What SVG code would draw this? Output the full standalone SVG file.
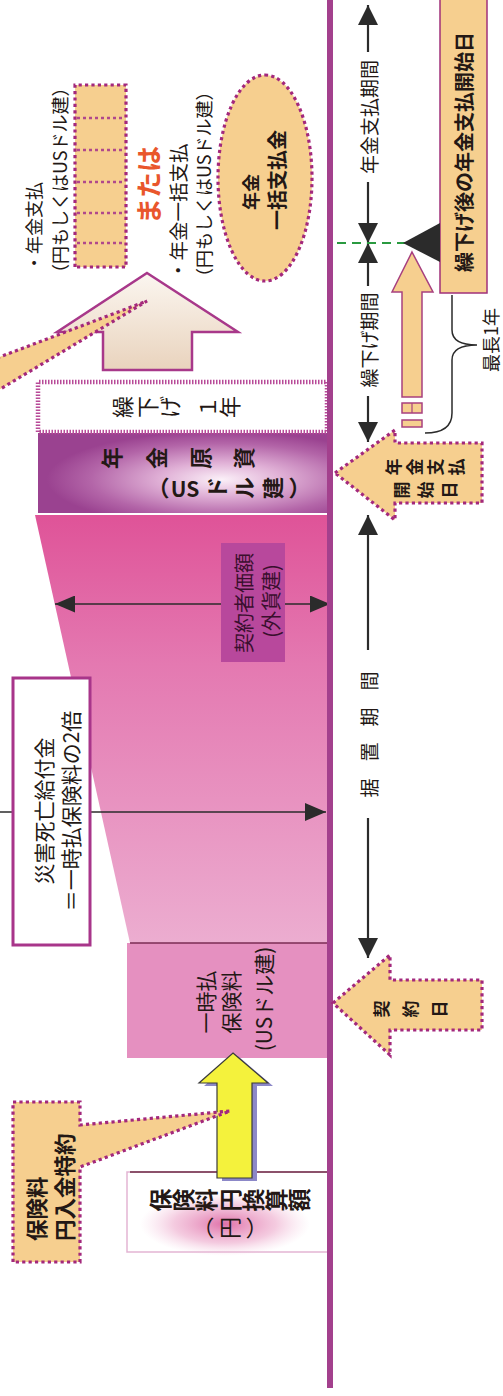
<svg xmlns="http://www.w3.org/2000/svg" width="503" height="1396" viewBox="0 0 503 1396">
<style>
.t{font-family:"Noto Sans CJK JP","Noto Sans CJK SC",sans-serif;fill:#231815;dominant-baseline:central}
.m{text-anchor:middle}
.b{font-weight:700}
.dot{fill:#f6cf8f;stroke:#a3287c;stroke-width:3.2;stroke-dasharray:3.2 3.2}
.div{stroke:#b0488c;stroke-width:2.6;stroke-dasharray:3 3;fill:none}
.ln{stroke:#2b2b2b;stroke-width:2.2;fill:none}
.thin{stroke:#2b2b2b;stroke-width:1.5;fill:none}
</style>
<defs>
<marker id="ah" viewBox="0 0 20 20" refX="20" refY="10" markerWidth="20" markerHeight="20" markerUnits="userSpaceOnUse" orient="auto"><path d="M0,0 L20,10 L0,20 z" fill="#2b2b2b"/></marker>
<marker id="ah2" viewBox="0 0 20 17" refX="20" refY="8.5" markerWidth="20" markerHeight="17" markerUnits="userSpaceOnUse" orient="auto-start-reverse"><path d="M0,0 L20,8.5 L0,17 z" fill="#2b2b2b"/></marker>
<marker id="ah3" viewBox="0 0 21 18" refX="21" refY="9" markerWidth="21" markerHeight="18" markerUnits="userSpaceOnUse" orient="auto"><path d="M0,0 L21,9 L0,18 z" fill="#2b2b2b"/></marker>
<linearGradient id="gTrap" gradientUnits="userSpaceOnUse" x1="881" y1="0" x2="453" y2="0">
<stop offset="0" stop-color="#df5398"/><stop offset="0.35" stop-color="#e479b1"/><stop offset="1" stop-color="#ecadd0"/>
</linearGradient>
<radialGradient id="gPur" cx="0.42" cy="0.63" r="0.6">
<stop offset="0" stop-color="#fbf0f8"/><stop offset="0.35" stop-color="#e0b0d6"/><stop offset="0.75" stop-color="#b365a8"/><stop offset="1" stop-color="#9a4290"/>
</radialGradient>
<linearGradient id="gBeige" gradientUnits="userSpaceOnUse" x1="1123" y1="0" x2="1026" y2="0">
<stop offset="0" stop-color="#fbf6f0"/><stop offset="1" stop-color="#e9d3bd"/>
</linearGradient>
<radialGradient id="gGlow">
<stop offset="0" stop-color="#de6aa5" stop-opacity="0.95"/><stop offset="0.6" stop-color="#eba0c6" stop-opacity="0.55"/><stop offset="1" stop-color="#f3c6dd" stop-opacity="0"/>
</radialGradient>
</defs>
<rect width="503" height="1396" fill="#fff"/>
<g transform="translate(0,1396) rotate(-90)">

<g id="deferral-growth">
<polygon points="453,130 881,35 881,329 453,329" fill="url(#gTrap)"/>
</g>

<g id="premium-usd">
<rect x="338" y="127" width="115" height="202" fill="#e590c0"/>
<line x1="453" y1="130" x2="453" y2="329" stroke="#7b2d55" stroke-width="1.5"/>
<text class="t m" font-size="21" x="394" y="205">一時払</text>
<text class="t m" font-size="21" x="394" y="230">保険料</text>
<text class="t m" font-size="21" x="397" y="263">(USドル建)</text>
</g>

<g id="premium-yen">
<rect x="144" y="127" width="80" height="202" fill="#fff" stroke="#e3b5d3" stroke-width="1.5"/>
<ellipse cx="172" cy="225" rx="32" ry="85" fill="url(#gGlow)"/>
<line x1="224" y1="130" x2="224" y2="329" stroke="#6d2a45" stroke-width="1.5"/>
<text class="t m b" font-size="23" x="196 196 196 196 196 196 196" y="158.6 181.9 205.2 228.5 251.8 275.1 298.4">保険料円換算額</text>
<text class="t m" font-size="22" x="168 168 168" y="201 228 255">︵円︶</text>
</g>

<g id="annuity-fund">
<rect x="883" y="38" width="80" height="291" fill="url(#gPur)"/>
<text class="t m b" font-size="22" x="938 938 938 938" y="110 155 199 242">年金原資</text>
<text class="t m b" font-size="22" x="908" y="156">︵</text>
<text class="t m b" font-size="21" x="908" y="185" transform="rotate(90 908 185)">US</text>
<text class="t m b" font-size="22" x="908 908 908 908" y="215 243 271 298">ドル建︶</text>
</g>

<g id="deferral-1yr">
<rect x="964" y="38" width="50" height="289" fill="#fff" stroke="#b84a98" stroke-width="4.5" stroke-dasharray="1.5 1.5"/>
<text class="t m" font-size="22" x="989 989 989 989 989" y="121 146 168 206 228">繰下げ１年</text>
</g>

<g id="payout-arrow">
<polygon points="1123,147 1064,238 1064,192 1026,192 1026,103 1064,103 1064,57" fill="url(#gBeige)" stroke="#a8388a" stroke-width="2.5"/>
</g>

<g id="callout-top">
<polygon points="1038,-3 1095,147 1005,-3" class="dot"/>
</g>

<g id="annuity-payments">
<rect x="1129" y="75" width="182" height="51" class="dot"/>
<line class="div" x1="1153" y1="77" x2="1153" y2="124"/>
<line class="div" x1="1183" y1="77" x2="1183" y2="124"/>
<line class="div" x1="1214" y1="77" x2="1214" y2="124"/>
<line class="div" x1="1246" y1="77" x2="1246" y2="124"/>
<line class="div" x1="1278" y1="77" x2="1278" y2="124"/>
<text class="t" font-size="18" x="1124" y="33">・年金支払</text>
<text class="t" font-size="18" x="1114" y="59">（円もしくはUSドル建）</text>
</g>

<g id="or-label">
<text class="t m b" font-size="26" x="1211" y="147" style="fill:#e9562c">または</text>
</g>

<g id="lump-sum">
<text class="t" font-size="19.5" x="1116" y="177">・年金一括支払</text>
<text class="t" font-size="18" x="1110" y="203">（円もしくはUSドル建）</text>
<ellipse cx="1218" cy="265" rx="103" ry="47" class="dot"/>
<text class="t m b" font-size="18" x="1204" y="250">年金</text>
<text class="t m b" font-size="20" x="1216" y="276">一括支払金</text>
</g>

<g id="yen-arrow">
<polygon points="340,238 310,273 310,257 215,257 215,222 310,222 310,204" fill="#8c88c8"/>
<polygon points="343,233 313,268 313,252 218,252 218,217 313,217 313,199" fill="#f4f23c" stroke="#3a3a3a" stroke-width="1.2"/>
</g>

<g id="yen-rider">
<polygon points="134,13 294,13 294,80 271,80 285,230 229,80 134,80" class="dot"/>
<text class="t b" font-size="21.5" x="155" y="35">保険料</text>
<text class="t b" font-size="21.5" x="155" y="63">円入金特約</text>
</g>

<g id="connectors">
<line class="thin" x1="584" y1="0" x2="584" y2="326" marker-end="url(#ah3)"/>
<line class="thin" x1="792" y1="55" x2="792" y2="330" marker-start="url(#ah2)" marker-end="url(#ah2)"/>
<line class="ln" x1="1214" y1="368" x2="1153" y2="368" marker-end="url(#ah)"/>
<line class="ln" x1="1344" y1="368" x2="1391" y2="368" marker-end="url(#ah)"/>
<line class="ln" x1="1110" y1="368" x2="1153" y2="368" marker-end="url(#ah)"/>
<line class="ln" x1="1000" y1="368" x2="954" y2="368" marker-end="url(#ah)"/>
<line class="ln" x1="746" y1="368" x2="881" y2="368" marker-end="url(#ah)"/>
<line class="ln" x1="578" y1="368" x2="438" y2="368" marker-end="url(#ah)"/>
<line x1="1153" y1="337" x2="1153" y2="405" stroke="#2a9a40" stroke-width="2" stroke-dasharray="9 6"/>
<path d="M1101,452 L1066,452 Q1051,452 1051,477 Q1051,452 1036,452 L983,452 Q963,452 963,425" class="thin"/>
</g>

<g id="accident-benefit">
<rect x="451" y="13" width="267" height="77" fill="#fff" stroke="#a8358a" stroke-width="3"/>
<text class="t m" font-size="21" x="585" y="43">災害死亡給付金</text>
<text class="t m" font-size="21" x="585" y="70">＝一時払保険料の2倍</text>
</g>

<g id="contract-value">
<rect x="734" y="221" width="119" height="64" fill="#b8489c"/>
<text class="t m" font-size="20" x="793" y="243" style="fill:#3a0f2e">契約者価額</text>
<text class="t m" font-size="20" x="795" y="270" style="fill:#3a0f2e">(外貨建)</text>
</g>

<g id="axis">
<line x1="8" y1="330" x2="1396" y2="330" stroke="#a3408d" stroke-width="6"/>
</g>

<g id="period-labels">
<text class="t m" font-size="19" x="1279" y="368">年金支払期間</text>
<text class="t m" font-size="19" x="1056" y="368">繰下げ期間</text>
<text class="t m" font-size="19" x="608 644 679 715" y="368">据置期間</text>
<text class="t m" font-size="18" x="1056" y="490">最長1年</text>
</g>

<g id="deferred-start">
<rect x="1103" y="440" width="300" height="47" fill="#f6cf8f" stroke="#a0307a" stroke-width="1.5"/>
<polygon points="1153,403 1173,440 1134,440" fill="#2b2b2b"/>
<text class="t m b" font-size="20" x="1244" y="463">繰下げ後の年金支払開始日</text>
</g>

<g id="shift-arrow">
<polygon points="1144,412 1104,433 1104,422 999,422 999,402 1104,402 1104,392" fill="#f6cf8f" stroke="#a8407f" stroke-width="1.5"/>
<rect x="983" y="402" width="10" height="20" fill="#f6cf8f" stroke="#a8407f" stroke-width="1.5"/>
<line x1="983" y1="412" x2="993" y2="412" stroke="#a8407f" stroke-width="1.2"/>
<rect x="969" y="402" width="7" height="20" fill="#f6cf8f" stroke="#a8407f" stroke-width="1.5"/>
</g>

<g id="annuity-start">
<polygon points="923,335 966,395 953,395 953,482 893,482 893,395 876,395" class="dot"/>
<text class="t m b" font-size="17" x="929 929 929 929" y="392 413 434 455">年金支払</text>
<text class="t m b" font-size="17" x="906 906 906" y="400 424 448">開始日</text>
</g>

<g id="contract-date">
<polygon points="393,333 441,390 416,390 416,482 366,482 366,390 341,390" class="dot"/>
<text class="t m b" font-size="17" x="387 387 387" y="380 409 438">契約日</text>
</g>

</g>
</svg>
